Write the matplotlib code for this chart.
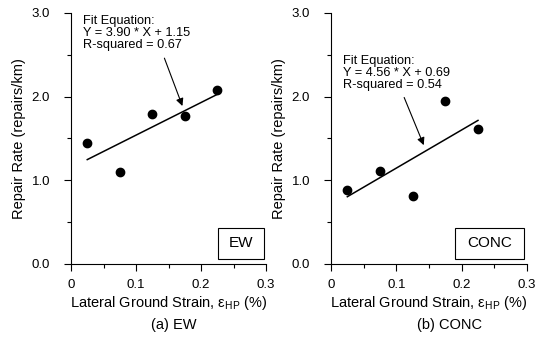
import numpy as np
import matplotlib
matplotlib.use("Agg")
import matplotlib.pyplot as plt
from matplotlib.ticker import FixedLocator

plt.rcParams['font.family'] = ['Liberation Sans', 'DejaVu Sans']
plt.rcParams['mathtext.fontset'] = 'custom'
plt.rcParams['mathtext.rm'] = 'Liberation Sans'
plt.rcParams['mathtext.it'] = 'Liberation Sans:italic'

# data
strain = [0.025, 0.075, 0.125, 0.175, 0.225]
rate_ew = [1.44, 1.10, 1.79, 1.77, 2.08]
rate_conc = [0.88, 1.11, 0.81, 1.95, 1.61]

fit_ew = (3.90, 1.15, 0.67)
fit_conc = (4.56, 0.69, 0.54)

panels = ["EW", "CONC"]
captions = ["(a) EW", "(b) CONC"]
xticks = [0, 0.1, 0.2, 0.3]
xtick_labels = ['0', '0.1', '0.2', '0.3']
yticks = [0, 1, 2, 3]
ytick_labels = ['0.0', '1.0', '2.0', '3.0']

fig = plt.figure(figsize=(5.42, 3.44), dpi=100)
ax_pos = [[0.131, 0.2326, 0.360, 0.7297], [0.6107, 0.2326, 0.3616, 0.7297]]
caption_x = [0.321, 0.830]

# where to put the equation text / arrow / label box (data coords)
text_xy = [(0.018, 2.98), (0.019, 2.50)]
arrow_from = [(0.1436, 2.46), (0.112, 1.99)]
arrow_to = [(0.1713, 1.888), (0.142, 1.42)]
box_xy = [(0.2256, 0.056, 0.296, 0.434), (0.190, 0.056, 0.295, 0.434)]

for i, (rates, fit) in enumerate([(rate_ew, fit_ew), (rate_conc, fit_conc)]):
    ax = fig.add_axes(ax_pos[i])
    ax.plot(strain, rates, 'o', color='black', ms=6, clip_on=False)
    xs = np.array([strain[0], strain[-1]])
    ax.plot(xs, fit[0] * xs + fit[1], color='black', lw=1.1)

    ax.set_xlim(0, 0.3)
    ax.set_ylim(0, 3.0)
    ax.spines['top'].set_visible(False)
    ax.spines['right'].set_visible(False)
    ax.spines['left'].set_linewidth(0.8)
    ax.spines['bottom'].set_linewidth(0.8)
    ax.xaxis.set_major_locator(FixedLocator(xticks))
    ax.xaxis.set_minor_locator(FixedLocator([0.05, 0.15, 0.25]))
    ax.yaxis.set_major_locator(FixedLocator(yticks))
    ax.yaxis.set_minor_locator(FixedLocator([0.5, 1.5, 2.5]))
    ax.set_xticklabels(xtick_labels)
    ax.set_yticklabels(ytick_labels)
    ax.tick_params(which='major', length=5, width=0.8, labelsize=9.5)
    ax.tick_params(which='minor', length=3, width=0.8)
    ax.tick_params(axis='x', which='major', pad=6)
    ax.tick_params(axis='y', which='major', pad=10)

    ax.set_ylabel("Repair Rate (repairs/km)", fontsize=10.5, labelpad=4)
    ax.set_xlabel(r"Lateral Ground Strain, ε$_{\rm HP}$ (%)", fontsize=10.5, labelpad=2)

    ax.text(text_xy[i][0], text_xy[i][1],
            "Fit Equation:\nY = %.2f * X + %.2f\nR-squared = %.2f" % fit,
            fontsize=9.2, va='top', ha='left', linespacing=1.0)
    ax.annotate("", xy=arrow_to[i], xytext=arrow_from[i],
                arrowprops=dict(arrowstyle='-|>', color='black', lw=0.8,
                                mutation_scale=11, shrinkA=0, shrinkB=0))

    x0, y0, x1, y1 = box_xy[i]
    ax.add_patch(plt.Rectangle((x0, y0), x1 - x0, y1 - y0, fill=False,
                               lw=0.8, ec='black', clip_on=False))
    ax.text((x0 + x1) / 2, (y0 + y1) / 2, panels[i], fontsize=11,
            ha='center', va='center')

    fig.text(caption_x[i], 1 - 325 / 344, captions[i],
             fontsize=10.5, ha='center', va='center')

fig.savefig("out.png", dpi=100)
